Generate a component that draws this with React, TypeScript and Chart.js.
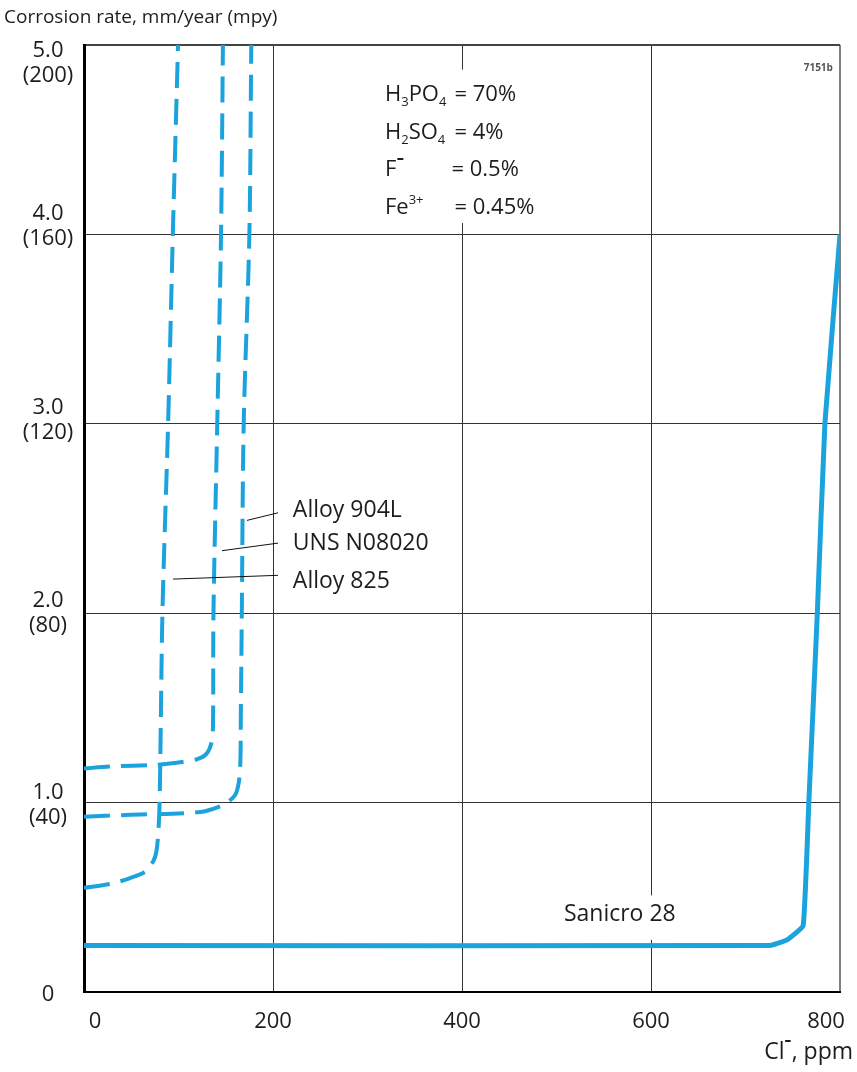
import React, { useEffect, useRef } from 'react';
import { Chart, registerables } from 'chart.js';

Chart.register(...registerables);

// ---- data (Cl- ppm vs corrosion rate mm/year) ----
const alloy825X = [0, 27, 48, 66, 75, 78, 80, 83, 89, 94, 99.5];
const alloy825Y = [0.55, 0.57, 0.6, 0.64, 0.71, 0.8, 1.0, 2.0, 3.0, 4.0, 5.0];

const uns08020X = [0, 27, 77, 98, 120, 130, 135, 136.5, 137, 141, 145, 147];
const uns08020Y = [1.18, 1.19, 1.2, 1.21, 1.23, 1.26, 1.32, 1.4, 2.0, 3.0, 4.0, 5.0];

const alloy904LX = [0, 45, 123, 144, 154, 161, 165, 166, 167, 169, 175, 177];
const alloy904LY = [0.925, 0.935, 0.95, 0.98, 1.01, 1.05, 1.16, 1.5, 2.0, 3.0, 4.0, 5.0];

const sanicroX = [0, 725, 744, 761, 767, 776, 784, 800];
const sanicroY = [0.245, 0.245, 0.275, 0.35, 1.0, 2.0, 3.0, 4.0];

const xTickValues = [0, 200, 400, 600, 800];
const xTickLabels = ['0', '200', '400', '600', '800'];
const yTickValues = [0, 1, 2, 3, 4, 5];
const yTickMm = ['0', '1.0', '2.0', '3.0', '4.0', '5.0'];
const yTickMpy = ['', '(40)', '(80)', '(120)', '(160)', '(200)'];

const seriesNames = ['Alloy 825', 'UNS N08020', 'Alloy 904L', 'Sanicro 28'];

// label nudges (px) for the two-line y tick labels
const yLabelNudge = [3, 3, 1, -3, -8, 19];

// annotation anchors in data units
const labelX = 221;
const labelY = [2.17, 2.37, 2.54]; // Alloy 825, UNS N08020, Alloy 904L
const leaderStart = [
  [94.2, 2.18],
  [146, 2.33],
  [172.5, 2.49],
];
const leaderEndX = 205.3;
const leaderEndY = [2.2, 2.37, 2.53];

const compLeftX = 318.5;
const compEqX = 392;
const compY = [4.736, 4.535, 4.34, 4.14];

const FONT = '"Open Sans", "Noto Sans", sans-serif';
const BLUE = '#1ba3dd';
const TEXT = '#1f1c1d';

function zip(xs: number[], ys: number[]) {
  return xs.map((x, i) => ({ x, y: ys[i] }));
}

type Part = { t: string; k: 'n' | 'sub' | 'sup' };

function rich(ctx: CanvasRenderingContext2D, x: number, y: number, parts: Part[], size: number) {
  let cx = x;
  for (const p of parts) {
    const s = p.k === 'n' ? size : Math.round(size * 0.6);
    ctx.font = `${s}px ${FONT}`;
    const dy = p.k === 'sub' ? size * 0.33 : p.k === 'sup' ? -size * 0.33 : 0;
    ctx.fillText(p.t, cx, y + dy);
    cx += ctx.measureText(p.t).width;
  }
  return cx;
}

const annotPlugin = {
  id: 'annot',
  beforeDatasetsDraw(chart: any) {
    const { ctx, scales } = chart;
    const x = scales.x;
    const y = scales.y;
    ctx.save();
    ctx.fillStyle = '#fff';
    const bx0 = x.getPixelForValue(310);
    const bx1 = x.getPixelForValue(500);
    const by0 = y.getPixelForValue(4.87);
    const by1 = y.getPixelForValue(4.06);
    ctx.fillRect(bx0, by0, bx1 - bx0, by1 - by0);
    const sx0 = x.getPixelForValue(498);
    const sx1 = x.getPixelForValue(637);
    const sy0 = y.getPixelForValue(0.51);
    const sy1 = y.getPixelForValue(0.275);
    ctx.fillRect(sx0, sy0, sx1 - sx0, sy1 - sy0);
    ctx.restore();
  },
  afterDatasetsDraw(chart: any) {
    const { ctx, scales } = chart;
    const x = scales.x;
    const y = scales.y;
    ctx.save();
    ctx.strokeStyle = '#111';
    ctx.lineWidth = 1;
    leaderStart.forEach((s, i) => {
      ctx.beginPath();
      ctx.moveTo(x.getPixelForValue(s[0]), y.getPixelForValue(s[1]));
      ctx.lineTo(x.getPixelForValue(leaderEndX), y.getPixelForValue(leaderEndY[i]));
      ctx.stroke();
    });
    ctx.restore();
  },
  afterDraw(chart: any) {
    const { ctx, scales } = chart;
    const x = scales.x;
    const y = scales.y;
    ctx.save();
    ctx.fillStyle = TEXT;
    ctx.textBaseline = 'middle';

    // title
    ctx.textAlign = 'left';
    ctx.font = `19px ${FONT}`;
    ctx.fillText('Corrosion rate, mm/year (mpy)', 4, 18);

    // y tick labels
    ctx.textAlign = 'center';
    ctx.font = `22px ${FONT}`;
    yTickValues.forEach((v, i) => {
      const py = y.getPixelForValue(v) + yLabelNudge[i];
      if (!yTickMpy[i]) {
        ctx.fillText(yTickMm[i], 48, py);
      } else {
        ctx.fillText(yTickMm[i], 48, py - 13);
        ctx.fillText(yTickMpy[i], 48, py + 12);
      }
    });

    // x tick labels
    xTickValues.forEach((v, i) => {
      let px = x.getPixelForValue(v);
      if (i === 0) px += 11;
      if (i === xTickValues.length - 1) px -= 14;
      ctx.fillText(xTickLabels[i], px, chart.chartArea.bottom + 30);
    });

    // x axis title: Cl-, ppm (right aligned)
    ctx.textAlign = 'left';
    ctx.font = `23px ${FONT}`;
    const rightEdge = 853;
    const w1 = ctx.measureText('Cl').width;
    const w3 = ctx.measureText(', ppm').width;
    const supW = 7;
    const startX = rightEdge - w1 - w3 - supW;
    const ty = chart.chartArea.bottom + 60;
    ctx.fillText('Cl', startX, ty);
    ctx.fillRect(startX + w1 + 0.5, ty - 12, 5.5, 2);
    ctx.fillText(', ppm', startX + w1 + supW, ty);

    // series labels
    ctx.font = `23px ${FONT}`;
    const lx = x.getPixelForValue(labelX);
    ctx.fillText(seriesNames[2], lx, y.getPixelForValue(labelY[2]));
    ctx.fillText(seriesNames[1], lx, y.getPixelForValue(labelY[1]));
    ctx.fillText(seriesNames[0], lx, y.getPixelForValue(labelY[0]));
    ctx.textAlign = 'center';
    ctx.fillText(seriesNames[3], x.getPixelForValue(567), y.getPixelForValue(0.407));

    // composition block
    ctx.textAlign = 'left';
    const cl = x.getPixelForValue(compLeftX);
    const ce = x.getPixelForValue(compEqX);
    const sz = 22;
    rich(ctx, cl, y.getPixelForValue(compY[0]), [
      { t: 'H', k: 'n' }, { t: '3', k: 'sub' }, { t: 'PO', k: 'n' }, { t: '4', k: 'sub' },
    ], sz);
    rich(ctx, ce, y.getPixelForValue(compY[0]), [{ t: '= 70%', k: 'n' }], sz);
    rich(ctx, cl, y.getPixelForValue(compY[1]), [
      { t: 'H', k: 'n' }, { t: '2', k: 'sub' }, { t: 'SO', k: 'n' }, { t: '4', k: 'sub' },
    ], sz);
    rich(ctx, ce, y.getPixelForValue(compY[1]), [{ t: '= 4%', k: 'n' }], sz);
    const fEnd = rich(ctx, cl, y.getPixelForValue(compY[2]), [{ t: 'F', k: 'n' }], sz);
    ctx.fillRect(fEnd + 1, y.getPixelForValue(compY[2]) - 12, 6, 2);
    rich(ctx, ce - 3, y.getPixelForValue(compY[2]), [{ t: '= 0.5%', k: 'n' }], sz);
    rich(ctx, cl, y.getPixelForValue(compY[3]), [{ t: 'Fe', k: 'n' }, { t: '3+', k: 'sup' }], sz);
    rich(ctx, ce, y.getPixelForValue(compY[3]), [{ t: '= 0.45%', k: 'n' }], sz);

    // figure code
    ctx.textAlign = 'right';
    ctx.fillStyle = '#555';
    ctx.font = `bold 10px ${FONT}`;
    ctx.fillText('7151b', x.getPixelForValue(792.5), y.getPixelForValue(4.88));

    ctx.restore();
  },
};

export default function App() {
  const ref = useRef<HTMLCanvasElement | null>(null);

  useEffect(() => {
    if (!ref.current) return;
    const dashed = (name: string, xs: number[], ys: number[]) => ({
      label: name,
      data: zip(xs, ys),
      borderColor: BLUE,
      backgroundColor: BLUE,
      borderWidth: 4,
      borderDash: [26, 11],
      borderCapStyle: 'butt' as const,
      tension: 0.3,
      pointRadius: 0,
      fill: false,
    });
    const chart = new Chart(ref.current, {
      type: 'line',
      data: {
        datasets: [
          dashed(seriesNames[0], alloy825X, alloy825Y),
          dashed(seriesNames[1], uns08020X, uns08020Y),
          dashed(seriesNames[2], alloy904LX, alloy904LY),
          {
            label: seriesNames[3],
            data: zip(sanicroX, sanicroY),
            borderColor: BLUE,
            backgroundColor: BLUE,
            borderWidth: 5,
            tension: 0.1,
            pointRadius: 0,
            fill: false,
            borderJoinStyle: 'round',
          },
        ],
      },
      options: {
        animation: false,
        responsive: false,
        maintainAspectRatio: false,
        layout: { padding: { left: 84, right: 17, top: 45, bottom: 80 } },
        plugins: { legend: { display: false }, tooltip: { enabled: false } },
        elements: { point: { radius: 0 } },
        scales: {
          x: {
            type: 'linear',
            min: 0,
            max: 800,
            ticks: { stepSize: 200, display: false },
            grid: {
              drawTicks: false,
              color: (c: any) => (c.tick && c.tick.value === 800 ? '#808080' : '#333'),
              lineWidth: (c: any) => (c.tick && c.tick.value === 800 ? 2 : 1),
            },
            border: { color: '#000', width: 2 },
            afterFit: (s: any) => {
              s.height = 0;
            },
          },
          y: {
            type: 'linear',
            min: 0,
            max: 5,
            ticks: { stepSize: 1, display: false },
            grid: {
              drawTicks: false,
              color: (c: any) => (c.tick && c.tick.value === 5 ? '#444' : '#333'),
              lineWidth: (c: any) => (c.tick && c.tick.value === 5 ? 2 : 1),
            },
            border: { color: '#000', width: 3 },
            afterFit: (s: any) => {
              s.width = 0;
            },
          },
        },
      },
      plugins: [annotPlugin],
    } as any);
    return () => chart.destroy();
  }, []);

  return (
    <div style={{ position: 'absolute', left: 0, top: 0, width: 857, height: 1072, background: '#fff' }}>
      <canvas ref={ref} width={857} height={1072} style={{ display: 'block', width: 857, height: 1072 }} />
    </div>
  );
}
